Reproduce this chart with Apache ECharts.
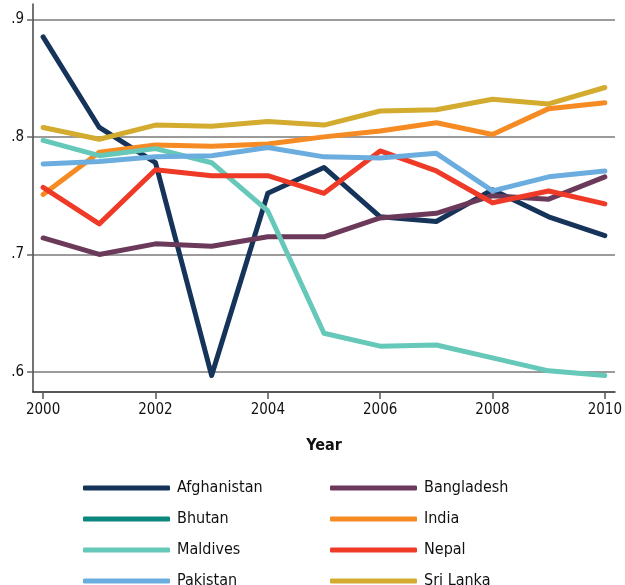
<!DOCTYPE html>
<html>
<head>
<meta charset="utf-8">
<script src="https://cdn.jsdelivr.net/npm/echarts@6/dist/echarts.min.js"></script>
<style>
  html, body { margin: 0; padding: 0; background: #fff; }
  #chart { width: 625px; height: 585px; }
</style>
</head>
<body>
<div id="chart"></div>
<script>
// 数据
const years = [2000, 2001, 2002, 2003, 2004, 2005, 2006, 2007, 2008, 2009, 2010];
const yTicks = [0.6, 0.7, 0.8, 0.9];

const afghanistan = [0.885, 0.808, 0.778, 0.597, 0.752, 0.774, 0.732, 0.728, 0.755, 0.732, 0.716];
const bangladesh = [0.714, 0.700, 0.709, 0.707, 0.715, 0.715, 0.731, 0.735, 0.750, 0.747, 0.766];
const bhutan = [];
const india = [0.751, 0.787, 0.793, 0.792, 0.794, 0.800, 0.805, 0.812, 0.802, 0.824, 0.829];
const maldives = [0.797, 0.784, 0.790, 0.778, 0.737, 0.633, 0.622, 0.623, 0.612, 0.601, 0.597];
const nepal = [0.757, 0.726, 0.772, 0.767, 0.767, 0.752, 0.788, 0.771, 0.744, 0.754, 0.743];
const pakistan = [0.777, 0.779, 0.783, 0.784, 0.791, 0.783, 0.782, 0.786, 0.754, 0.766, 0.771];
const sriLanka = [0.808, 0.798, 0.810, 0.809, 0.813, 0.810, 0.822, 0.823, 0.832, 0.828, 0.842];

const names = ["Afghanistan", "Bangladesh", "Bhutan", "India", "Maldives", "Nepal", "Pakistan", "Sri Lanka"];
const values = [afghanistan, bangladesh, bhutan, india, maldives, nepal, pakistan, sriLanka];
const colors = ["#16335a", "#6b3a5a", "#0b877d", "#f68b24", "#66c8b8", "#ee3a26", "#6badde", "#d3ab2f"];

const FONT = "'Liberation Sans Narrow', 'DejaVu Sans Condensed', 'Roboto', sans-serif";

// 组装系列
function buildSeries() {
  return names.map((name, i) => ({
    name: name,
    type: "line",
    data: values[i].map((v, j) => [years[j], v]),
    showSymbol: false,
    symbol: "none",
    color: colors[i],
    lineStyle: { width: 5, color: colors[i], cap: "round", join: "round" },
    emphasis: { disabled: true },
  }));
}

function legendBlock(list, left) {
  return {
    orient: "vertical",
    left: left,
    top: 475,
    height: 160,
    data: list,
    icon: "roundRect",
    itemWidth: 87,
    itemHeight: 5,
    itemGap: 15,
    selectedMode: false,
    textStyle: { fontFamily: FONT, fontSize: 16, color: "#111", lineHeight: 16, padding: [0, 0, 0, 2] },
  };
}

let chart = echarts.init(document.getElementById("chart"));
let option = {
  animation: false,
  backgroundColor: "#fff",
  grid: { left: 33, right: 5, top: 4, bottom: 193 },
  legend: [
    legendBlock(["Afghanistan", "Bhutan", "Maldives", "Pakistan"], 78),
    legendBlock(["Bangladesh", "India", "Nepal", "Sri Lanka"], 325),
  ],
  xAxis: {
    type: "value",
    min: 1999.82,
    max: 2010.18,
    name: "Year",
    nameLocation: "middle",
    nameGap: 46,
    nameTextStyle: { fontFamily: FONT, fontSize: 16, fontWeight: "bold", color: "#111" },
    axisLine: { lineStyle: { color: "#222", width: 1.5 } },
    axisTick: { length: 7, lineStyle: { color: "#555", width: 1.5 }, customValues: years.filter((y) => y % 2 === 0) },
    axisLabel: {
      fontFamily: FONT,
      fontSize: 15,
      color: "#111",
      margin: 11,
      customValues: years.filter((y) => y % 2 === 0),
      formatter: (v) => String(v),
    },
    splitLine: { show: false },
  },
  yAxis: {
    type: "value",
    min: 0.583,
    max: 0.913,
    axisLine: { show: true, lineStyle: { color: "#444", width: 1.5 } },
    axisTick: { show: true, length: 6, lineStyle: { color: "#666", width: 1.5 }, customValues: yTicks },
    axisLabel: {
      fontFamily: FONT,
      fontSize: 15,
      color: "#111",
      margin: 9,
      customValues: yTicks,
      formatter: (v) => v.toFixed(1).replace(/^0/, ""),
    },
    splitLine: { show: true, lineStyle: { color: "#7a7a7a", width: 1.6 } },
  },
  series: buildSeries(),
};
chart.setOption(option);
</script>
</body>
</html>
